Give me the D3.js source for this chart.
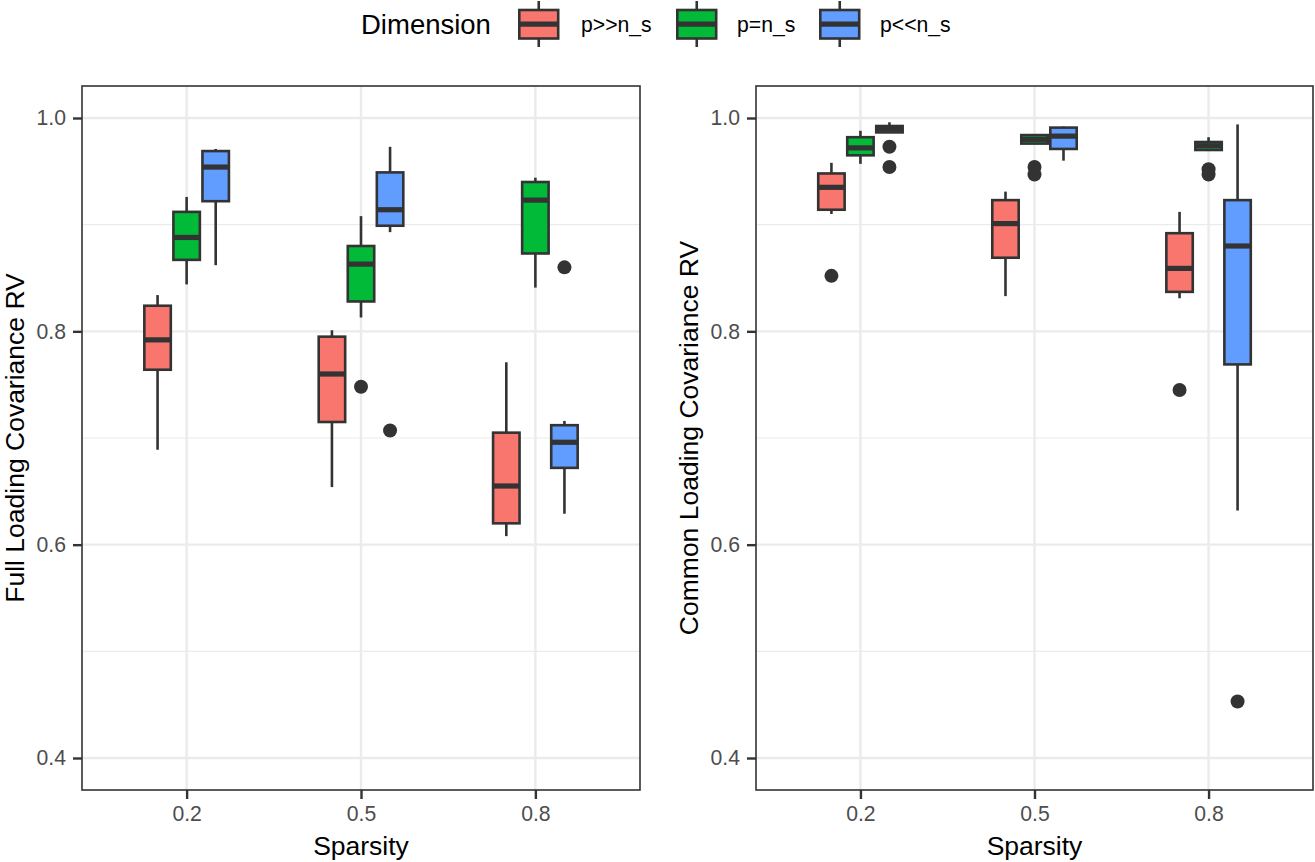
<!DOCTYPE html>
<html>
<head>
<meta charset="utf-8">
<script src="https://cdn.jsdelivr.net/npm/d3@7"></script>
<style>
  html, body { margin: 0; padding: 0; background: #fff; }
  svg { display: block; font-family: "Liberation Sans", Arial, sans-serif; }
</style>
</head>
<body>
<svg id="chart" width="1315" height="862"></svg>
<script>
// ---- data ----
const categories = ["0.2", "0.5", "0.8"];
const groups = ["p>>n_s", "p=n_s", "p<<n_s"];
const colors = ["#F8766D", "#00BA38", "#619CFF"];
const yTicks = [0.4, 0.6, 0.8, 1.0];
const yMinor = [0.5, 0.7, 0.9];

// [lower whisker, Q1, median, Q3, upper whisker] per category, per group
const fullP_gg = [[0.689, 0.764, 0.792, 0.824, 0.834], [0.654, 0.715, 0.760, 0.795, 0.801], [0.608, 0.620, 0.655, 0.705, 0.771]];
const fullP_eq = [[0.844, 0.867, 0.888, 0.912, 0.926], [0.813, 0.828, 0.863, 0.880, 0.908], [0.841, 0.873, 0.923, 0.940, 0.944]];
const fullP_ll = [[0.862, 0.922, 0.954, 0.969, 0.971], [0.893, 0.899, 0.914, 0.949, 0.973], [0.629, 0.672, 0.696, 0.712, 0.716]];
const fullOut_gg = [[], [], []];
const fullOut_eq = [[], [0.748], []];
const fullOut_ll = [[], [0.707], [0.860]];

const commonP_gg = [[0.910, 0.914, 0.935, 0.948, 0.958], [0.833, 0.869, 0.901, 0.923, 0.931], [0.831, 0.837, 0.859, 0.892, 0.912]];
const commonP_eq = [[0.957, 0.965, 0.972, 0.982, 0.988], [0.976, 0.976, 0.980, 0.984, 0.984], [0.969, 0.970, 0.974, 0.9775, 0.982]];
const commonP_ll = [[0.986, 0.9865, 0.990, 0.9925, 0.996], [0.960, 0.971, 0.983, 0.991, 0.992], [0.632, 0.769, 0.880, 0.923, 0.994]];
const commonOut_gg = [[0.852], [], [0.745]];
const commonOut_eq = [[], [0.954, 0.947], [0.952, 0.947]];
const commonOut_ll = [[0.973, 0.954], [], [0.453]];

const panels = [
  { title: "Full Loading Covariance RV", stats: [fullP_gg, fullP_eq, fullP_ll], outs: [fullOut_gg, fullOut_eq, fullOut_ll], x0: 82, x1: 640 },
  { title: "Common Loading Covariance RV", stats: [commonP_gg, commonP_eq, commonP_ll], outs: [commonOut_gg, commonOut_eq, commonOut_ll], x0: 756, x1: 1313 }
];

// ---- drawing ----
const svg = d3.select("#chart");
const yTop = 86, yBottom = 790;
const y = d3.scaleLinear().domain([0.37, 1.03]).range([yBottom, yTop]);
const dark = "#333333";
const tickFont = 21.2, titleFont = 26.5;

panels.forEach(p => {
  const g = svg.append("g");
  const x = d3.scalePoint().domain(categories).range([p.x0, p.x1]).padding(0.6);
  const step = x.step();
  const dodge = d3.scaleBand().domain(groups).range([-0.25 * step, 0.25 * step]);
  const bw = dodge.bandwidth();

  // background grid
  g.selectAll(".minor").data(yMinor).join("line")
    .attr("x1", p.x0).attr("x2", p.x1)
    .attr("y1", d => y(d)).attr("y2", d => y(d))
    .attr("stroke", "#EBEBEB").attr("stroke-width", 1.2);
  g.selectAll(".major").data(yTicks).join("line")
    .attr("x1", p.x0).attr("x2", p.x1)
    .attr("y1", d => y(d)).attr("y2", d => y(d))
    .attr("stroke", "#EBEBEB").attr("stroke-width", 2.4);
  g.selectAll(".vmajor").data(categories).join("line")
    .attr("x1", d => x(d)).attr("x2", d => x(d))
    .attr("y1", yTop).attr("y2", yBottom)
    .attr("stroke", "#EBEBEB").attr("stroke-width", 2.4);

  // boxes
  groups.forEach((grp, gi) => {
    categories.forEach((cat, ci) => {
      const s = p.stats[gi][ci];
      const cx = x(cat) + dodge(grp) + bw / 2;
      const bg = g.append("g");
      bg.append("line")
        .attr("x1", cx).attr("x2", cx).attr("y1", y(s[4])).attr("y2", y(s[3]))
        .attr("stroke", dark).attr("stroke-width", 2.6);
      bg.append("line")
        .attr("x1", cx).attr("x2", cx).attr("y1", y(s[1])).attr("y2", y(s[0]))
        .attr("stroke", dark).attr("stroke-width", 2.6);
      bg.append("rect")
        .attr("x", cx - bw / 2 + 1.3).attr("width", bw - 2.6)
        .attr("y", y(s[3])).attr("height", Math.max(0.1, y(s[1]) - y(s[3])))
        .attr("fill", colors[gi]).attr("stroke", dark).attr("stroke-width", 2.6);
      bg.append("line")
        .attr("x1", cx - bw / 2 + 1.3).attr("x2", cx + bw / 2 - 1.3)
        .attr("y1", y(s[2])).attr("y2", y(s[2]))
        .attr("stroke", dark).attr("stroke-width", 5.2);
      bg.selectAll("circle").data(p.outs[gi][ci]).join("circle")
        .attr("cx", cx).attr("cy", d => y(d)).attr("r", 7)
        .attr("fill", dark);
    });
  });

  // panel border
  g.append("rect")
    .attr("x", p.x0).attr("y", yTop).attr("width", p.x1 - p.x0).attr("height", yBottom - yTop)
    .attr("fill", "none").attr("stroke", dark).attr("stroke-width", 1.6);

  // axes
  const yAxis = g.append("g").attr("transform", `translate(${p.x0},0)`)
    .call(d3.axisLeft(y).tickValues(yTicks).tickFormat(d3.format(".1f")).tickSize(9).tickPadding(7));
  const xAxis = g.append("g").attr("transform", `translate(0,${yBottom})`)
    .call(d3.axisBottom(x).tickSize(9).tickPadding(7));
  [yAxis, xAxis].forEach(a => {
    a.select(".domain").remove();
    a.selectAll(".tick line").attr("stroke", dark).attr("stroke-width", 2.4);
    a.selectAll(".tick text").attr("fill", "#4D4D4D").style("font-size", tickFont + "px")
      .style("font-family", "'Liberation Sans', Arial, sans-serif");
  });

  // axis titles
  g.append("text")
    .attr("x", (p.x0 + p.x1) / 2).attr("y", 855)
    .attr("text-anchor", "middle").style("font-size", titleFont + "px").attr("fill", "#000")
    .text("Sparsity");
  g.append("text")
    .attr("transform", `translate(${p.x0 - 58},${(yTop + yBottom) / 2}) rotate(-90)`)
    .attr("text-anchor", "middle").style("font-size", titleFont + "px").attr("fill", "#000")
    .text(p.title);
});

// legend
const legend = svg.append("g");
legend.append("text").attr("x", 361).attr("y", 34).style("font-size", "27.5px").attr("fill", "#000").text("Dimension");
const keyX = [518, 676, 819];
const labelX = [581, 737, 880];
groups.forEach((grp, i) => {
  const kx = keyX[i], kw = 41.5, cx = kx + kw / 2;
  legend.append("line").attr("x1", cx).attr("x2", cx).attr("y1", 1).attr("y2", 47)
    .attr("stroke", dark).attr("stroke-width", 2.6);
  legend.append("rect").attr("x", kx + 1.3).attr("y", 10).attr("width", kw - 2.6).attr("height", 28.5)
    .attr("fill", colors[i]).attr("stroke", dark).attr("stroke-width", 2.6);
  legend.append("line").attr("x1", kx + 1.3).attr("x2", kx + kw - 1.3).attr("y1", 24.2).attr("y2", 24.2)
    .attr("stroke", dark).attr("stroke-width", 5.2);
  legend.append("text").attr("x", labelX[i]).attr("y", 31.5).style("font-size", tickFont + "px").attr("fill", "#000").text(grp);
});
</script>
</body>
</html>
